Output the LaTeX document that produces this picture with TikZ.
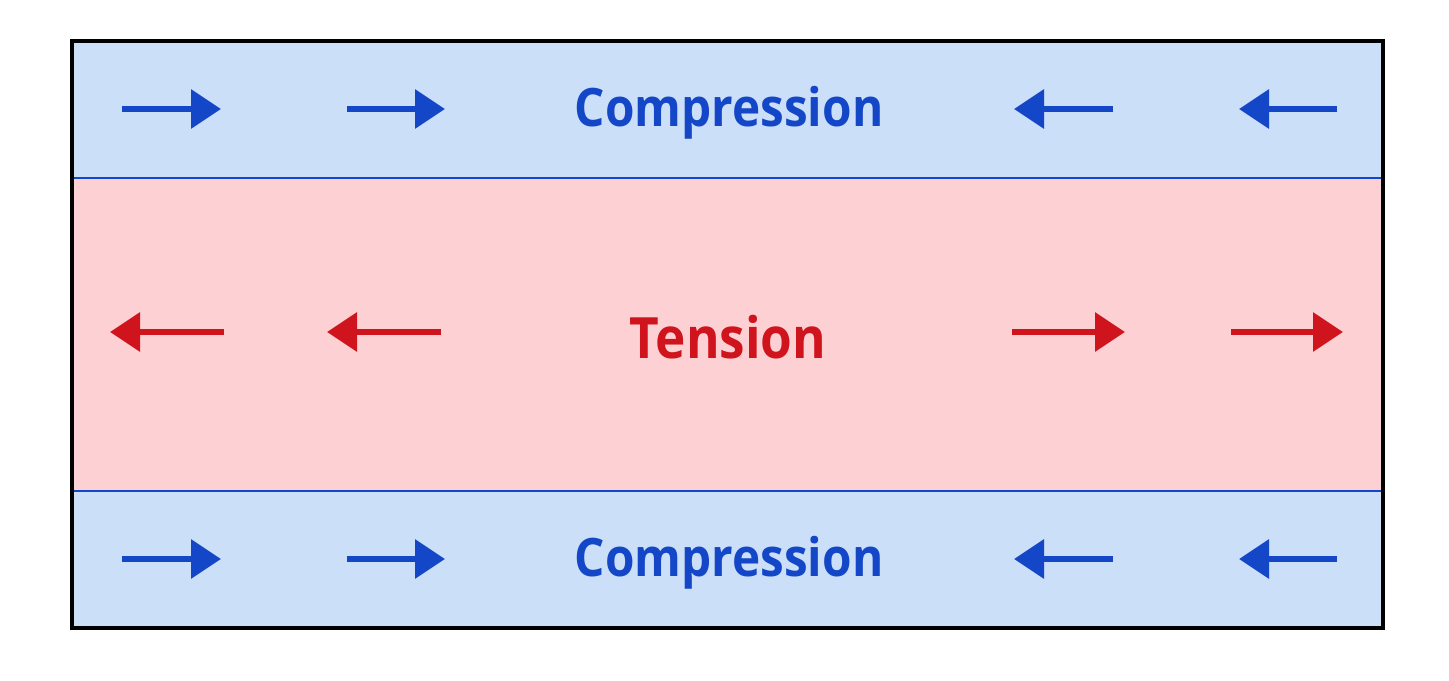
\documentclass[tikz,border=0pt]{standalone}
\usepackage{fontspec}
\setmainfont{Open Sans}[FakeStretch=0.9]
\usetikzlibrary{arrows.meta}
\definecolor{cBlue}{HTML}{1446C8}
\definecolor{cBlueFill}{HTML}{CCDFF8}
\definecolor{cRed}{HTML}{D0141E}
\definecolor{cRedFill}{HTML}{FDD1D3}
\tikzset{
  force/.style={line width=3.2pt,-{Triangle[length=15pt,width=19pt]}},
  label/.style={font=\fontsize{26.5}{30}\selectfont\bfseries,inner sep=0pt}
}
\begin{document}
\begin{tikzpicture}[x=0.5pt,y=-0.5pt]
  \useasboundingbox (0,0) rectangle (1449,680);
  \fill[white] (0,0) rectangle (1449,680);
  % bands
  \fill[cBlueFill] (72,41) rectangle (1383,178);
  \fill[cRedFill] (72,178) rectangle (1383,491);
  \fill[cBlueFill] (72,491) rectangle (1383,628);
  \draw[cBlue,line width=1.2pt] (72,178) -- (1383,178);
  \draw[cBlue,line width=1.2pt] (72,491) -- (1383,491);
  \draw[black,line width=1.6pt] (72,41) rectangle (1383,628);

  % labels
  \node[label,text=cBlue] (compTop) at (729,113) {Compression};
  \node[label,text=cRed,font=\fontsize{28.5}{32}\selectfont\bfseries] (tension) at (728,337) {Tension};
  \node[label,text=cBlue] (compBot) at (729,563) {Compression};

  % compression arrows
  \foreach \y in {109,559} {
    \draw[force,cBlue] (122,\y) -- (221,\y);
    \draw[force,cBlue] (347,\y) -- (445,\y);
    \draw[force,cBlue] (1113,\y) -- (1014,\y);
    \draw[force,cBlue] (1337,\y) -- (1239,\y);
  };
  % tension arrows
  \draw[force,cRed] (224,332) -- (110,332);
  \draw[force,cRed] (441,332) -- (327,332);
  \draw[force,cRed] (1012,332) -- (1125,332);
  \draw[force,cRed] (1231,332) -- (1343,332);
\end{tikzpicture}
\end{document}
